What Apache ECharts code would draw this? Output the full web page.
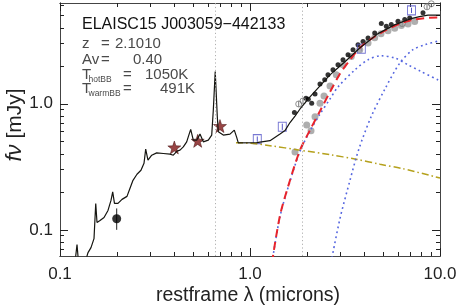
<!DOCTYPE html>
<html><head><meta charset="utf-8">
<script src="https://cdn.jsdelivr.net/npm/echarts@6/dist/echarts.min.js"></script>
<style>html,body{margin:0;padding:0;background:#fff}#c{width:458px;height:305px}</style>
</head><body><div id="c"></div>
<script>
// ---- data (restframe wavelength in microns, flux density in mJy) ----
const X_MIN = 0.1, X_MAX = 10;
const Y_MIN = 0.062, Y_MAX = 6.3;
const xMajorTicks = [0.1, 1, 10];
const xMinorTicks = [0.2,0.3,0.4,0.5,0.6,0.7,0.8,0.9,2,3,4,5,6,7,8,9];
const yMajorTicks = [0.1, 1];
const yMinorTicks = [0.07,0.08,0.09,0.2,0.3,0.4,0.5,0.6,0.7,0.8,0.9,2,3,4,5,6];
const xTickLabels = ['0.1', '1.0', '10.0'];
const yTickLabels = ['0.1', '1.0'];
const emissionLines = [0.6563, 1.875];

const totalModel = [
 [0.1199,0.0549],[0.1229,0.0764],[0.1252,0.0549],[0.1354,0.0549],[0.1404,0.0659],[0.1456,0.0723],
 [0.1510,0.0852],[0.1542,0.1620],[0.1566,0.1144],[0.1624,0.1186],[0.1705,0.1253],[0.1789,0.1425],
 [0.1855,0.1712],[0.1894,0.2000],[0.1935,0.1620],[0.2019,0.1620],[0.2120,0.1744],[0.2252,0.1842],
 [0.2336,0.2134],[0.2422,0.2471],[0.2542,0.2758],[0.2668,0.2969],[0.2768,0.3375],[0.2825,0.4364],
 [0.2904,0.3566],[0.3039,0.3908],[0.3228,0.4077],[0.3498,0.4032],[0.3793,0.3981],[0.3948,0.3908],
 [0.4129,0.4207],[0.4281,0.4285],[0.4456,0.4551],[0.4643,0.4989],[0.4746,0.5539],[0.4874,0.6265],
 [0.5030,0.5147],[0.5242,0.5147],[0.5455,0.5747],[0.5678,0.4989],[0.6034,0.5147],[0.6288,0.5641],
 [0.6411,0.8927],[0.6561,1.803],[0.6729,0.7893],[0.6811,0.5998],[0.7236,0.5641],[0.7846,0.5747],
 [0.8267,0.6185],[0.8511,0.5408],[0.8677,0.4898],[1.0845,0.4916],[1.2743,0.5100],[1.4387,0.5747],
 [1.5283,0.6128],[1.6238,0.7096],[1.7253,0.7993],[1.8335,0.9091],[1.9478,1.0148],[2.0691,1.1331],
 [2.1985,1.2530],[2.3357,1.3862],[2.4808,1.5339],[2.6367,1.6961],[2.8871,1.9109],[3.1623,2.1536],
 [3.4640,2.4479],[3.7927,2.7834],[4.2298,3.1652],[4.7170,3.5997],[5.2301,3.9084],[5.7985,4.2460],
 [6.3883,4.4859],[7.0372,4.7387],[7.8004,4.9160],[8.6466,5.0527],[10.0,5.0527]
];
const galaxyComponent = [
 [0.8439,0.4916],[1.0,0.4871],[1.2743,0.4652],[1.8335,0.4285],[2.6367,0.3945],[3.6140,0.3632],
 [4.8329,0.3313],[6.3883,0.3051],[10.0,0.2577]
];
const dustSum = [
 [1.3056,0.0549],[1.4387,0.1300],[1.6238,0.2471],[1.8335,0.4285],[2.0691,0.6185],[2.3357,0.8760],
 [2.6367,1.2417],[2.9764,1.7279],[3.3598,2.2338],[3.7927,2.7834],[4.2813,3.2244],[5.1333,3.8030],
 [6.1585,4.3241],[7.1218,4.6103],[8.3412,4.7834],[10.0,4.8275]
];
const hotBB = [
 [1.3056,0.0549],[1.4387,0.1276],[1.6238,0.2426],[1.8335,0.4207],[2.0691,0.6073],[2.3357,0.8291],
 [2.6367,1.0920],[2.9050,1.3612],[3.5703,1.8591],[4.1808,2.2338],[4.8917,2.4036],[5.7985,2.3041],
 [6.7856,2.0382],[7.9433,1.8030],[10.0,1.5198]
];
const warmBB = [
 [2.6689,0.0549],[2.9764,0.1230],[3.3598,0.2471],[3.7249,0.4285],[4.3335,0.7850],[5.1333,1.3119],
 [6.1585,2.1143],[7.2092,2.6834],[8.3412,2.9413],[10.0,3.1652]
];
const irsObserved = [
 [1.7130,0.8539],[1.9712,1.1060],[2.0269,1.0861],[2.1122,1.0093],[2.1985,1.1969],[2.3357,1.4381],
 [2.4726,1.5477],[2.5731,1.6961],[2.7336,1.8591],[2.9050,2.0382],[3.0866,2.2338],[3.2798,2.4479],
 [3.4847,2.6834],[3.7022,2.9413],[3.9335,3.1240],[4.1808,3.3251],[4.5319,3.6467],[4.9096,4.3241],
 [5.2177,4.1150],[5.5404,4.2460],[6.0104,4.5109],[6.5200,4.6535],[6.9247,4.8008],[8.1375,5.2604]
];
const irsHostSub = [
 [1.7253,0.4153],[1.9884,0.6778],[2.0947,0.6107],[2.1985,0.7893],[2.3357,1.0093],[2.4516,1.1538],
 [2.6367,1.3862],[2.8460,1.6961],[3.0866,2.0382],[3.4140,2.3729],[3.7798,2.6834],[4.1808,3.0339],
 [4.5319,3.3437],[4.8917,3.5997],[5.3233,3.8030],[5.7772,3.9811],[6.2582,4.1687],[6.7856,4.2855],
 [7.3587,4.4859]
];
const opticalPhot = [[0.3997,0.4501],[0.5306,0.5082],[0.6950,0.6654]];
const uvPhot = [[0.1988,0.1224]];
const uvPhotErr = [[0.1988,0.100,0.1478]];
const nirPhot = [[1.0924,0.5243],[1.4791,0.6569],[3.8535,2.7332],[7.0795,5.5081]];
const nirPhotErr = [[1.0924,0.500,0.550],[1.4791,0.620,0.695],[3.8535,2.60,2.87],[7.0795,5.25,5.78]];
const otherPhot = [[1.8045,0.9963],[1.9008,1.0527],[6.3326,4.3241],[8.5426,5.8749],[9.0,6.2083]];
const otherPhotErr = [[1.8045,0.945,1.05],[1.9008,1.0,1.11],[6.3326,4.12,4.54],[8.5426,5.6,6.15],[9.0,5.95,6.5]];

// ---- chart ----
const FONT = 'Liberation Sans';
const chart = echarts.init(document.getElementById('c'), null, {renderer: 'canvas'});

function xAx(pos, ticks, len, labels) {
  return {
    type: 'log', logBase: 10, min: X_MIN, max: X_MAX, position: pos,
    axisLine: {show: true, onZero: false, lineStyle: {color: '#444', width: 1}},
    axisTick: {show: true, inside: true, length: len, customValues: ticks, lineStyle: {color: '#222', width: 1}},
    axisLabel: labels ? {show: true, customValues: xMajorTicks, margin: 10, fontFamily: FONT, fontSize: 17, color: '#222',
      formatter: v => xTickLabels[Math.round(Math.log10(v)) + 1]} : {show: false},
    splitLine: {show: false}, minorTick: {show: false}, minorSplitLine: {show: false}
  };
}
function yAx(pos, ticks, len, labels) {
  return {
    type: 'log', logBase: 10, min: Y_MIN, max: Y_MAX, position: pos,
    axisLine: {show: true, onZero: false, lineStyle: {color: '#444', width: 1}},
    axisTick: {show: true, inside: true, length: len, customValues: ticks, lineStyle: {color: '#222', width: 1}},
    axisLabel: labels ? {show: true, customValues: yMajorTicks, margin: 7, fontFamily: FONT, fontSize: 17, color: '#222',
      formatter: v => yTickLabels[Math.round(Math.log10(v)) + 1]} : {show: false},
    splitLine: {show: false}, minorTick: {show: false}, minorSplitLine: {show: false}
  };
}

function errBars(data, color) {
  return {
    type: 'custom', data: data, silent: true, clip: true,
    encode: {x: 0, y: [1, 2]},
    renderItem: function (params, api) {
      const p1 = api.coord([api.value(0), api.value(1)]);
      const p2 = api.coord([api.value(0), api.value(2)]);
      return {type: 'line', shape: {x1: p1[0], y1: p1[1], x2: p2[0], y2: p2[1]}, style: {stroke: color, lineWidth: 1}};
    }
  };
}

const star = 'path://M0,-10 L2.35,-3.24 L9.51,-3.09 L3.8,1.24 L5.88,8.09 L0,4 L-5.88,8.09 L-3.8,1.24 L-9.51,-3.09 L-2.35,-3.24 Z';

function txt(text, x, y, size, color, extra) {
  return Object.assign({type: 'text', x: x, y: y, silent: true,
    style: {text: text, fontFamily: FONT, fontSize: size, fill: color, align: 'left', verticalAlign: 'middle'}}, extra || {});
}
const G = '#4a4a4a';

chart.setOption({
  animation: false,
  backgroundColor: '#fff',
  grid: {left: 60, right: 18, top: 3, bottom: 49, outerBoundsMode: 'none'},
  xAxis: [xAx('bottom', xMajorTicks, 8, true), xAx('bottom', xMinorTicks, 4, false),
          xAx('top', xMajorTicks, 8, false), xAx('top', xMinorTicks, 4, false)],
  yAxis: [yAx('left', yMajorTicks, 8, true), yAx('left', yMinorTicks, 4, false),
          yAx('right', yMajorTicks, 8, false), yAx('right', yMinorTicks, 4, false)],
  series: [
    {type: 'line', data: galaxyComponent, symbol: 'none', smooth: 0.3,
     lineStyle: {color: '#b5a11c', width: 1.5, type: [7, 3, 1.5, 3]},
     markLine: {silent: true, symbol: 'none', label: {show: false},
       lineStyle: {color: '#b0b0b0', width: 1, type: [1.2, 2.5]},
       data: emissionLines.map(v => ({xAxis: v}))}},
    {type: 'line', data: hotBB, symbol: 'none', smooth: 0.3,
     lineStyle: {color: '#5566e0', width: 1.6, type: [1.8, 3.2]}},
    {type: 'line', data: warmBB, symbol: 'none', smooth: 0.3,
     lineStyle: {color: '#5566e0', width: 1.6, type: [1.8, 3.2]}},
    {type: 'line', data: dustSum, symbol: 'none', smooth: 0.3,
     lineStyle: {color: '#e8242b', width: 2, type: [8, 5]}},
    {type: 'line', data: totalModel, symbol: 'none',
     lineStyle: {color: '#151510', width: 1.2}},
    {type: 'scatter', data: irsHostSub, symbol: 'circle', symbolSize: 7,
     itemStyle: {color: '#9a9a9a'}},
    {type: 'scatter', data: irsObserved, symbol: 'circle', symbolSize: 5,
     itemStyle: {color: '#000'}},
    {type: 'scatter', data: opticalPhot, symbol: star, symbolSize: 13,
     itemStyle: {color: '#7e1616', borderColor: '#3a0606', borderWidth: 0.6}},
    errBars(uvPhotErr, '#222'),
    {type: 'scatter', data: uvPhot, symbol: 'circle', symbolSize: 9,
     itemStyle: {color: '#000'}},
    errBars(nirPhotErr, '#5555c8'),
    {type: 'scatter', data: nirPhot, symbol: 'rect', symbolSize: [8, 9],
     itemStyle: {color: 'rgba(0,0,0,0)', borderColor: '#5555c8', borderWidth: 1}},
    errBars(otherPhotErr, '#777'),
    {type: 'scatter', data: otherPhot, symbol: 'circle', symbolSize: 6,
     itemStyle: {color: 'rgba(0,0,0,0)', borderColor: '#777', borderWidth: 1}}
  ],
  graphic: [
    txt('ELAISC15 J003059\u2212442133', 82, 25, 16, '#111'),
    txt('z', 82, 43.5, 15, G), txt('=', 101, 43.5, 15, G), txt('2.1010', 115, 43.5, 15, G),
    txt('Av', 82, 59.5, 15, G), txt('=', 101, 59.5, 15, G), txt('0.40', 133, 59.5, 15, G),
    txt('T', 82, 75, 15, G), txt('hotBB', 88.5, 80, 8.5, G), txt('=', 123, 75, 15, G), txt('1050K', 145, 75, 15, G),
    txt('T', 82, 89, 15, G), txt('warmBB', 88.5, 94, 8.5, G), txt('=', 123, 89, 15, G), txt('491K', 160, 89, 15, G),
    {type: 'text', x: 248, y: 296, silent: true,
     style: {text: 'restframe \u03bb (microns)', fontFamily: FONT, fontSize: 19.5, fill: '#222', align: 'center', verticalAlign: 'middle'}},
    {type: 'text', x: 15, y: 125, rotation: Math.PI / 2, silent: true,
     style: {text: '{i|f\u03bd} [mJy]', fontFamily: FONT, fontSize: 21, fill: '#222', align: 'center', verticalAlign: 'middle',
       rich: {i: {fontFamily: FONT, fontStyle: 'italic', fontSize: 22, fill: '#222'}}}}
  ]
});
</script>
</body></html>
